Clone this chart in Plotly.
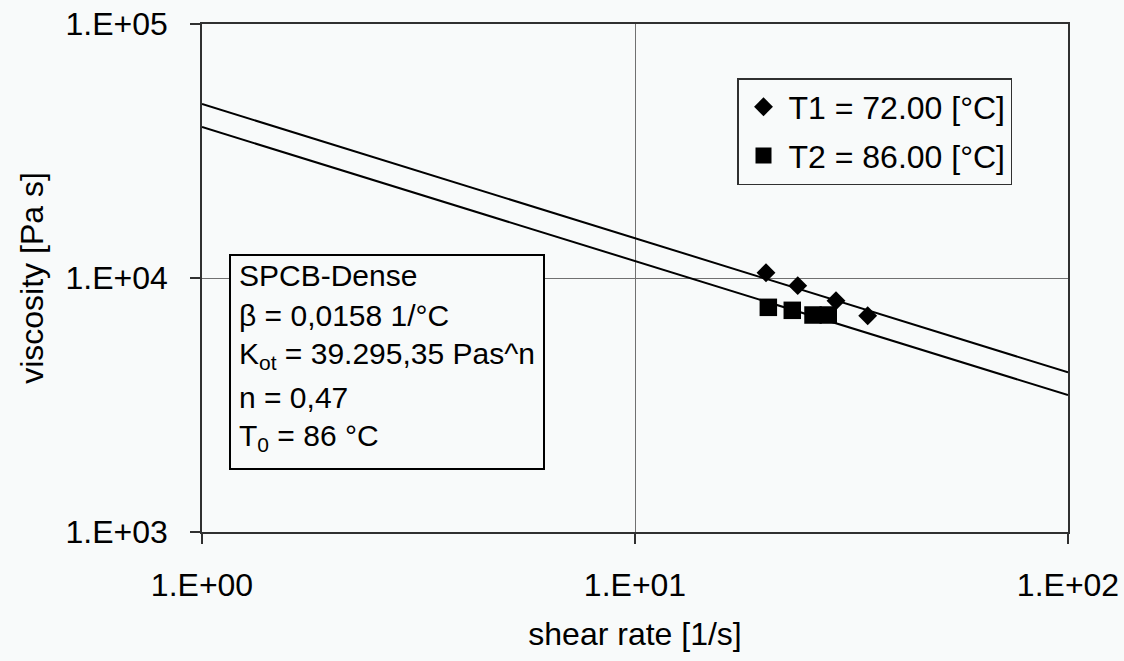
import plotly.graph_objects as go

# ---- data ----
fit_shear_rate = [1.0, 100.0]
fit_visc_T1 = [48400, 4250]
fit_visc_T2 = [39300, 3460]

t1_shear_rate = [20.07, 23.76, 29.12, 34.47]
t1_visc = [10490, 9330, 8140, 7105]

t2_shear_rate = [20.32, 23.08, 25.77, 27.95]
t2_visc = [7665, 7460, 7150, 7150]

legend_names = ["T1 = 72.00 [°C]", "T2 = 86.00 [°C]"]
info_lines = [
    "SPCB-Dense",
    "β = 0,0158 1/°C",
    "K<sub>ot</sub> = 39.295,35 Pas^n",
    "n = 0,47",
    "T<sub>0</sub> = 86 °C",
]
x_tickvals = [1, 10, 100]
x_ticktext = ["1.E+00", "1.E+01", "1.E+02"]
y_tickvals = [1e3, 1e4, 1e5]
y_ticktext = ["1.E+03", "1.E+04", "1.E+05"]

FONT = "Liberation Sans, Arial, sans-serif"
BG = "#f8fafa"

fig = go.Figure()
fig.add_trace(go.Scatter(x=fit_shear_rate, y=fit_visc_T1, mode="lines",
                         line=dict(color="black", width=2), showlegend=False,
                         hoverinfo="skip"))
fig.add_trace(go.Scatter(x=fit_shear_rate, y=fit_visc_T2, mode="lines",
                         line=dict(color="black", width=2), showlegend=False,
                         hoverinfo="skip"))
fig.add_trace(go.Scatter(x=t1_shear_rate, y=t1_visc, mode="markers",
                         name=legend_names[0], legendgroup="a",
                         marker=dict(symbol="diamond", size=14.5, color="black",
                                     line=dict(width=0))))
fig.add_trace(go.Scatter(x=t2_shear_rate, y=t2_visc, mode="markers",
                         name=legend_names[1], legendgroup="b",
                         marker=dict(symbol="square", size=17.5, color="black",
                                     line=dict(width=0))))

axis_common = dict(
    type="log", automargin=False,
    showgrid=True, gridcolor="#707070", gridwidth=1,
    showline=True, linecolor="#303030", linewidth=1.5, mirror=True,
    ticks="outside", ticklen=10, tickcolor="#303030", tickwidth=1.5,
    tickfont=dict(family=FONT, size=32, color="black"),
    zeroline=False,
)

fig.update_xaxes(range=[0, 2], tickvals=x_tickvals, ticktext=x_ticktext,
                 title=dict(text="shear rate [1/s]", standoff=20,
                            font=dict(family=FONT, size=32, color="black")),
                 ticklabelstandoff=14, **axis_common)
fig.update_yaxes(range=[3, 5], tickvals=y_tickvals, ticktext=y_ticktext,
                 title=dict(text="viscosity [Pa s]", standoff=12,
                            font=dict(family=FONT, size=32, color="black")),
                 ticklabelstandoff=16, **axis_common)

# info box
PW, PH = 866.0, 508.0
L, B = 202.0, 532.0
def px(xp):
    return (xp - L) / PW
def py(yp):
    return (B - yp) / PH

fig.add_shape(type="rect", xref="paper", yref="paper",
              x0=px(230), x1=px(544), y0=py(469), y1=py(255),
              line=dict(color="black", width=2), fillcolor=BG, layer="above")
line_centers = [275, 315, 355, 397, 437]
for txt, yc in zip(info_lines, line_centers):
    fig.add_annotation(xref="paper", yref="paper", x=px(237), y=py(yc),
                       xanchor="left", yanchor="middle", showarrow=False,
                       text=txt, font=dict(family=FONT, size=30, color="black"))

fig.update_layout(
    width=1124, height=661,
    margin=dict(l=202, r=56, t=24, b=129, autoexpand=False),
    paper_bgcolor=BG, plot_bgcolor=BG,
    font=dict(family=FONT, color="black"),
    legend=dict(x=px(737), y=py(78), xanchor="left", yanchor="top",
                bgcolor=BG, bordercolor="#303030", borderwidth=1.5,
                font=dict(family=FONT, size=32, color="black"),
                itemwidth=40,
                traceorder="grouped", tracegroupgap=4),
)

fig.write_html("out.html")
